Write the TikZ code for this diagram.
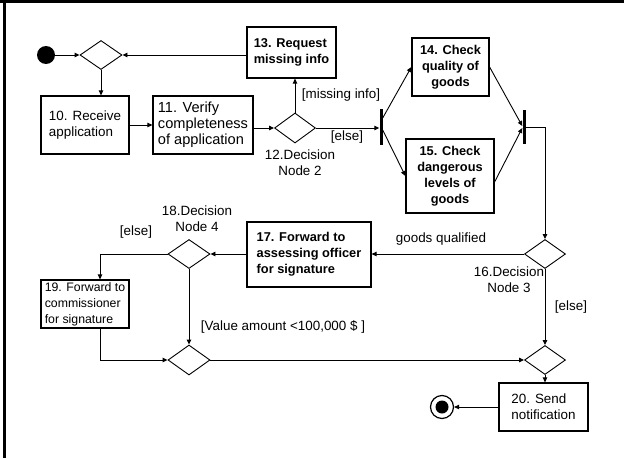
\documentclass[tikz,border=0pt]{standalone}
\usepackage{fontspec}
\setmainfont{Liberation Sans}
\usetikzlibrary{arrows.meta,shapes.geometric}
\begin{document}
\begin{tikzpicture}[x=1pt,y=-1pt,
  txt/.style={font=\fontsize{13.4}{16}\selectfont},
  act/.style={draw,line width=1.2pt,rectangle,inner sep=0pt,align=left,
    font=\fontsize{13.4}{16}\selectfont},
  actb/.style={act,font=\fontsize{12.8}{16}\bfseries\selectfont},
  dec/.style={draw,line width=0.9pt,diamond,inner sep=0pt,aspect=1.4},
  bar/.style={fill=black,rectangle,inner sep=0pt,minimum width=3pt},
  flow/.style={line width=0.9pt,-{Triangle[length=5pt,width=4.5pt]}}]
\useasboundingbox (0,0) rectangle (624,458);
% frame edges
\draw[line width=3pt] (0,1.5) -- (624,1.5);
\draw[line width=3pt] (4.5,0) -- (4.5,458);

% start / end
\node[circle,fill=black,inner sep=0pt,minimum size=18pt] (init) at (46,55) {};
\node[circle,draw,line width=1.2pt,inner sep=0pt,minimum size=23pt] (final) at (442,407) {};
\node[circle,fill=black,inner sep=0pt,minimum size=13pt] (finaldot) at (final) {};

% decision / merge nodes
\node[dec,minimum width=42pt,minimum height=29pt] (d1) at (101,55) {};
\node[dec,minimum width=41pt,minimum height=30pt] (d12) at (295,128) {};
\node[dec,minimum width=41pt,minimum height=29pt] (d16) at (545,254) {};
\node[dec,minimum width=42pt,minimum height=29pt] (d18) at (189,254) {};
\node[dec,minimum width=42pt,minimum height=30pt] (d3) at (189,360) {};
\node[dec,minimum width=41pt,minimum height=29pt] (d4) at (545,360) {};

% fork / join bars
\node[bar,minimum height=36pt] (bar1) at (381,127) {};
\node[bar,minimum height=34pt] (bar2) at (524,127) {};

% actions
\node[act,minimum width=88pt,minimum height=58pt] (b10) at (85,125) {10. Receive\\application};
\node[act,minimum width=100pt,minimum height=58pt,font=\fontsize{14.6}{16}\selectfont] (b11) at (203,125) {11. Verify\\completeness\\of application};
\node[actb,minimum width=89pt,minimum height=51pt] (b13) at (291.5,52.5) {13. Request\\missing info};
\node[actb,align=center,minimum width=77pt,minimum height=58pt] (b14) at (450.5,67) {14. Check\\quality of\\goods};
\node[actb,align=center,minimum width=88pt,minimum height=74pt] (b15) at (450,176) {15. Check\\dangerous\\levels of\\goods};
\node[actb,minimum width=124pt,minimum height=65pt] (b17) at (309,254.5) {17. Forward to\\assessing officer\\for signature};
\node[act,minimum width=88pt,minimum height=48pt,font=\fontsize{12.3}{16}\selectfont] (b19) at (85,304) {19. Forward to\\commissioner\\for signature};
\node[act,minimum width=89pt,minimum height=48pt] (b20) at (543.5,407) {20. Send\\notification};

% labels
\node[txt,align=center] (l12) at (300,163) {12.Decision\\Node 2};
\node[txt,align=center] (l16) at (509,280) {16.Decision\\Node 3};
\node[txt,align=center] (l18) at (197,219) {18.Decision\\Node 4};
\node[txt] (lmiss) at (341,95) {[missing info]};
\node[txt] (lelse1) at (347,137) {[else]};
\node[txt] (lgood) at (441,239) {goods qualified};
\node[txt] (lelse2) at (136,232) {[else]};
\node[txt] (lvalue) at (283,327) {[Value amount <100,000 \$ ]};
\node[txt] (lelse3) at (571,307) {[else]};

% connectors
\draw[flow] (init) -- (d1.west);
\draw[flow] (b13.west |- d1.east) -- (d1.east);
\draw[flow] (d1.south) -- (d1.south |- b10.north);
\draw[flow] (b10.east) -- (b11.west);
\draw[flow] (b11.east |- d12.west) -- (d12.west);
\draw[flow] (d12.north) -- (d12.north |- b13.south);
\draw[flow] (d12.east) -- (d12.east -| bar1.west);
\draw[flow] ([yshift=9pt]bar1.east) -- (b14.west);
\draw[flow] ([yshift=-3pt]bar1.east) -- (b15.west);
\draw[flow] (b14.east) -- ([yshift=1pt]bar2.west);
\draw[flow] ([yshift=-6pt]b15.east) -- ([yshift=-1pt]bar2.west);
\draw[flow] (bar2.east) -| (d16.north);
\draw[flow] (d16.west) -- (d16.west -| b17.east);
\draw[flow] (b17.west |- d18.east) -- (d18.east);
\draw[flow] (d18.west) -| ([xshift=15pt]b19.north);
\draw[flow] (d18.south) -- (d3.north);
\draw[flow] ([xshift=15pt]b19.south) |- (d3.west);
\draw[flow] (d3.east) -- (d4.west);
\draw[flow] (d16.south) -- (d4.north);
\draw[flow] (d4.south) -- (d4.south |- b20.north);
\draw[flow] (b20.west) -- (final.east);
\end{tikzpicture}
\end{document}
